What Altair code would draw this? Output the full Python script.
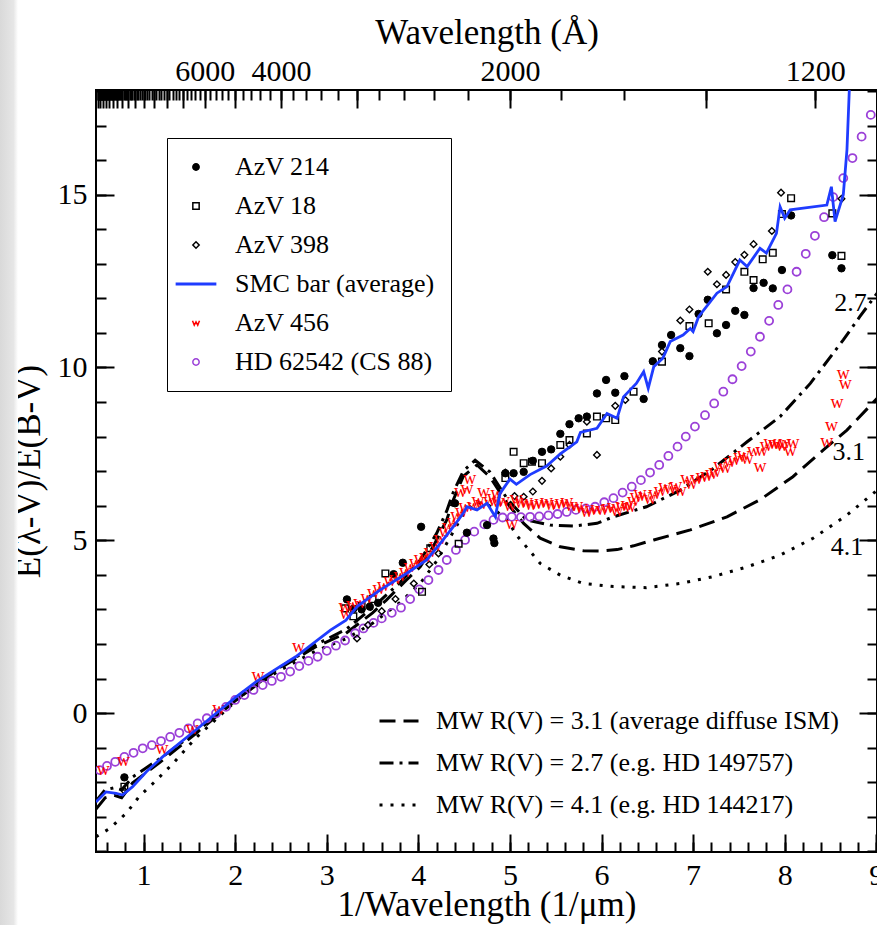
import altair as alt
import pandas as pd

# ---------------- data ----------------
AZV214 = [(0.79, -1.86), (3.22, 3.29), (3.29, 3.02), (3.38, 3.00), (3.47, 3.08), (3.56, 3.19),
          (3.73, 4.02), (3.83, 4.35), (4.03, 5.39), (4.40, 6.07), (4.53, 5.22), (4.75, 5.44),
          (4.82, 5.05), (4.83, 4.92), (4.95, 6.94), (5.04, 6.94), (5.15, 6.98), (5.25, 7.30),
          (5.35, 7.56), (5.45, 7.63), (5.55, 8.08), (5.65, 8.36), (5.75, 8.53), (5.84, 8.58),
          (5.95, 9.25), (6.05, 9.64), (6.15, 9.27), (6.25, 9.75), (6.46, 9.09), (6.56, 10.18),
          (6.66, 10.65), (6.76, 10.94), (6.86, 10.56), (6.96, 10.33), (7.06, 11.55), (7.16, 11.96),
          (7.26, 10.99), (7.36, 11.23), (7.46, 11.64), (7.56, 11.52), (7.66, 12.30), (7.77, 12.45),
          (7.87, 12.29), (7.97, 12.82), (8.07, 14.40), (8.52, 13.25), (8.62, 12.87)]

AZV18 = [(0.79, -2.13), (3.20, 3.03), (3.29, 2.80), (3.38, 3.10), (3.50, 3.30), (3.64, 4.04),
         (4.04, 3.51), (4.13, 4.77), (4.44, 4.90), (4.95, 6.80), (5.04, 7.56), (5.15, 7.23),
         (5.24, 7.27), (5.35, 7.23), (5.55, 7.76), (5.65, 7.90), (5.84, 8.09), (5.95, 8.58),
         (6.05, 8.53), (6.15, 8.48), (6.35, 9.30), (6.66, 10.17), (6.96, 11.20), (7.17, 11.28),
         (7.36, 12.26), (7.56, 12.77), (7.66, 12.53), (7.76, 13.13), (7.87, 13.32), (7.97, 14.44),
         (8.07, 14.90), (8.52, 14.46), (8.62, 13.23)]

AZV398 = [(0.79, -2.25), (3.33, 2.16), (3.45, 2.55), (3.60, 2.95), (3.75, 3.30), (3.95, 3.75),
          (4.12, 4.30), (4.22, 4.62), (4.95, 6.96), (5.05, 6.28), (5.15, 6.26), (5.25, 6.41),
          (5.35, 6.72), (5.45, 7.08), (5.55, 7.42), (5.65, 7.76), (5.84, 8.43), (5.95, 7.47),
          (6.15, 8.89), (6.26, 9.06), (6.66, 10.46), (6.86, 11.36), (6.96, 11.68), (7.16, 12.77),
          (7.26, 12.41), (7.36, 12.68), (7.46, 13.05), (7.56, 13.26), (7.66, 13.57), (7.86, 13.95),
          (7.96, 15.06), (8.62, 14.88)]

AZV456 = [(0.56, -1.68), (0.78, -1.42), (1.20, -1.08), (1.53, -0.49), (1.82, 0.09), (2.25, 1.03),
          (2.69, 1.87), (3.21, 2.83), (3.20, 3.03), (3.28, 3.10), (3.36, 3.17), (3.44, 3.30),
          (3.51, 3.46), (3.57, 3.55), (3.62, 3.66), (3.69, 3.80), (3.75, 3.85), (3.80, 3.95),
          (3.86, 4.05), (3.91, 4.19), (3.97, 4.30), (4.02, 4.43), (4.08, 4.50), (4.13, 4.62),
          (4.19, 4.80), (4.24, 5.01), (4.29, 5.20), (4.33, 5.35), (4.38, 5.50), (4.42, 5.68),
          (4.46, 6.36), (4.47, 5.80), (4.51, 5.92), (4.53, 6.45), (4.56, 6.74), (4.60, 5.97),
          (4.65, 6.10), (4.69, 6.02), (4.71, 6.36), (4.78, 6.12), (4.82, 6.20), (4.86, 6.31),
          (4.87, 6.07), (4.93, 6.12), (5.00, 5.97), (5.02, 5.44), (5.07, 6.17), (5.12, 6.05),
          (5.18, 6.07), (5.23, 6.00), (5.29, 6.02), (5.34, 6.05), (5.40, 6.07), (5.45, 6.00),
          (5.51, 6.02), (5.56, 6.05), (5.62, 6.07), (5.67, 5.95), (5.73, 5.97), (5.78, 5.90),
          (5.84, 5.80), (5.89, 5.85), (5.95, 5.88), (6.01, 5.85), (6.07, 5.90), (6.13, 5.92),
          (6.17, 5.83), (6.22, 5.95), (6.28, 6.00), (6.31, 5.92), (6.35, 6.10), (6.38, 6.21),
          (6.42, 6.31), (6.47, 6.25), (6.53, 6.17), (6.58, 6.30), (6.64, 6.41), (6.69, 6.50),
          (6.75, 6.45), (6.81, 6.55), (6.86, 6.41), (6.93, 6.74), (6.98, 6.60), (7.04, 6.74),
          (7.10, 6.80), (7.15, 6.84), (7.20, 6.90), (7.24, 6.95), (7.29, 7.13), (7.35, 7.05),
          (7.40, 7.23), (7.45, 7.30), (7.51, 7.37), (7.55, 7.45), (7.59, 7.32), (7.66, 7.56),
          (7.73, 7.08), (7.75, 7.56), (7.80, 7.70), (7.84, 7.80), (7.89, 7.75), (7.93, 7.76),
          (7.97, 7.70), (8.00, 7.80), (8.06, 7.56), (8.09, 7.80), (8.46, 7.82), (8.51, 8.29),
          (8.57, 8.94), (8.64, 9.78), (8.66, 9.49)]

HD62542 = [(0.52, -1.65), (0.60, -1.53), (0.69, -1.41), (0.79, -1.27), (0.89, -1.15), (0.99, -1.02),
           (1.09, -0.93), (1.19, -0.81), (1.29, -0.69), (1.39, -0.57), (1.49, -0.44), (1.59, -0.30),
           (1.69, -0.15), (1.79, -0.01), (1.90, 0.18), (2.00, 0.38), (2.10, 0.52), (2.20, 0.67),
           (2.30, 0.81), (2.40, 0.93), (2.50, 1.05), (2.60, 1.20), (2.70, 1.36), (2.80, 1.51),
           (2.90, 1.63), (3.00, 1.80), (3.10, 1.95), (3.20, 2.10), (3.31, 2.31), (3.40, 2.45),
           (3.51, 2.61), (3.60, 2.74), (3.71, 2.90), (3.81, 3.05), (3.91, 3.30), (4.01, 3.58),
           (4.11, 3.85), (4.22, 4.14), (4.31, 4.43), (4.41, 4.72), (4.51, 5.01), (4.61, 5.25),
           (4.72, 5.46), (4.82, 5.59), (4.92, 5.66), (5.02, 5.68), (5.12, 5.67), (5.22, 5.68),
           (5.32, 5.69), (5.42, 5.72), (5.52, 5.76), (5.62, 5.82), (5.72, 5.88), (5.83, 5.92),
           (5.93, 5.97), (6.03, 6.10), (6.13, 6.22), (6.23, 6.38), (6.33, 6.55), (6.43, 6.74),
           (6.53, 6.96), (6.63, 7.18), (6.73, 7.44), (6.83, 7.71), (6.92, 8.00), (7.02, 8.29),
           (7.13, 8.62), (7.23, 8.96), (7.33, 9.30), (7.43, 9.66), (7.53, 10.04), (7.63, 10.46),
           (7.73, 10.89), (7.83, 11.35), (7.93, 11.81), (8.03, 12.26), (8.13, 12.77), (8.23, 13.29),
           (8.33, 13.81), (8.43, 14.35), (8.53, 14.93), (8.64, 15.48), (8.74, 16.06), (8.84, 16.68),
           (8.94, 17.31)]

SMC_BAR = [(0.48, -2.57), (0.59, -2.28), (0.70, -2.32), (0.77, -2.37), (0.88, -2.13), (1.03, -1.70),
           (1.21, -1.26), (1.57, -0.49), (2.01, 0.47), (2.23, 0.91), (2.66, 1.63), (3.04, 2.40),
           (3.21, 2.69), (3.33, 3.08), (3.58, 3.56), (3.87, 4.04), (4.09, 4.43), (4.24, 4.91),
           (4.38, 5.39), (4.49, 5.78), (4.53, 5.97), (4.64, 5.88), (4.75, 6.07), (4.84, 5.68),
           (4.89, 6.35), (5.00, 6.77), (5.07, 6.62), (5.22, 6.90), (5.40, 7.15), (5.55, 7.50),
           (5.73, 7.85), (5.77, 8.12), (5.95, 8.24), (6.06, 8.67), (6.17, 8.53), (6.24, 9.15),
           (6.38, 9.54), (6.46, 9.88), (6.51, 9.40), (6.57, 10.02), (6.67, 10.27), (6.75, 10.75),
           (6.89, 10.94), (6.97, 11.13), (7.00, 11.04), (7.06, 11.47), (7.26, 12.15), (7.37, 12.34),
           (7.51, 13.11), (7.59, 12.92), (7.73, 13.45), (7.80, 13.31), (7.91, 13.88), (7.95, 14.65),
           (8.00, 14.32), (8.06, 14.56), (8.46, 14.70), (8.51, 15.23), (8.55, 14.22), (8.64, 15.00),
           (8.68, 16.30), (8.72, 19.00)]

MW31 = [(0.48, -2.78), (0.58, -2.45), (0.68, -2.38), (0.76, -2.45), (0.88, -2.02), (1.03, -1.72),
        (1.21, -1.36), (1.57, -0.59), (2.01, 0.38), (2.45, 1.24), (2.88, 1.92), (3.21, 2.31),
        (3.50, 2.90), (3.65, 3.27), (3.87, 3.85), (4.02, 4.23), (4.16, 4.81), (4.31, 5.59),
        (4.38, 6.16), (4.49, 6.85), (4.64, 7.18), (4.78, 6.84), (4.97, 6.07), (5.15, 5.49),
        (5.33, 5.06), (5.55, 4.81), (5.80, 4.70), (6.00, 4.69), (6.17, 4.73), (6.35, 4.84),
        (6.57, 5.01), (6.97, 5.30), (7.37, 5.68), (7.73, 6.17), (8.09, 6.84), (8.42, 7.61),
        (8.68, 8.19), (9.01, 9.11)]

MW27 = [(0.48, -2.55), (0.58, -2.22), (0.68, -2.16), (0.76, -2.22), (0.88, -1.85), (1.03, -1.58),
        (1.21, -1.26), (1.57, -0.55), (2.01, 0.38), (2.45, 1.26), (2.88, 1.98), (3.21, 2.42),
        (3.50, 3.05), (3.80, 3.78), (4.02, 4.42), (4.20, 5.20), (4.31, 5.85), (4.38, 6.38),
        (4.49, 7.00), (4.62, 7.32), (4.78, 6.98), (4.97, 6.20), (5.18, 5.59), (5.44, 5.44),
        (5.69, 5.41), (5.95, 5.49), (6.13, 5.68), (6.49, 5.97), (6.86, 6.45), (7.22, 7.08),
        (7.59, 7.85), (7.95, 8.58), (8.28, 9.54), (8.64, 10.80), (8.82, 11.47), (9.01, 12.15)]

MW41 = [(0.48, -3.58), (0.63, -3.34), (0.81, -2.90), (0.95, -2.42), (1.14, -1.94), (1.32, -1.46),
        (1.57, -0.72), (2.01, 0.36), (2.45, 1.18), (2.88, 1.80), (3.21, 2.15), (3.50, 2.60),
        (3.80, 3.20), (4.02, 3.75), (4.20, 4.40), (4.35, 5.10), (4.50, 5.80), (4.62, 6.10),
        (4.75, 6.05), (4.97, 5.60), (5.07, 5.15), (5.18, 4.81), (5.33, 4.33), (5.55, 3.99),
        (5.80, 3.75), (6.13, 3.66), (6.49, 3.63), (6.86, 3.75), (7.22, 3.95), (7.59, 4.23),
        (7.95, 4.57), (8.31, 5.06), (8.68, 5.73), (9.01, 6.45)]

SERIES = ["AzV 214", "AzV 18", "AzV 398", "SMC bar (average)", "AzV 456", "HD 62542 (CS 88)"]
CURVES = ["MW R(V) = 3.1 (average diffuse ISM)",
          "MW R(V) = 2.7 (e.g. HD 149757)",
          "MW R(V) = 4.1 (e.g. HD 144217)"]
CURVE_TAGS = ["2.7", "3.1", "4.1"]
CURVE_TAG_X = [8.72, 8.70, 8.68]
CURVE_TAG_Y = [11.87, 7.55, 4.80]

X_MAJOR = [1, 2, 3, 4, 5, 6, 7, 8, 9]
X_MINOR = [round(0.6 + 0.2 * i, 1) for i in range(43)]
Y_MAJOR = [0, 5, 10, 15]
Y_MINOR = list(range(-4, 19))
TOP_LABEL_WL = [6000, 4000, 2000, 1200]
TOP_MAJOR_WL = [1200, 1400] + list(range(2000, 20001, 1000))
TOP_MINOR_WL = list(range(1200, 20001, 200))

# ---------------- styling ----------------
FONT = "Liberation Serif, Times New Roman, DejaVu Serif, serif"
BLUE = "#1f3cff"
RED = "#ff0000"
PURPLE = "#9b40d8"
X_DOMAIN = [0.48, 9.008]
Y_DOMAIN = [-4.02, 18.03]

XS = alt.Scale(domain=X_DOMAIN, nice=False, zero=False)
YS = alt.Scale(domain=Y_DOMAIN, nice=False, zero=False)


def df(pairs, series=None):
    d = pd.DataFrame(pairs, columns=["x", "y"])
    if series is not None:
        d["series"] = series
    return d


def enc_xy(xaxis=None, yaxis=None):
    return dict(x=alt.X("x:Q", scale=XS, axis=xaxis), y=alt.Y("y:Q", scale=YS, axis=yaxis))


W_PATH = "M-1.1,-0.7L-0.55,0.7L0,-0.35L0.55,0.7L1.1,-0.7"
LINE_PATH = "M-6.2,-0.22L6.2,-0.22L6.2,0.22L-6.2,0.22Z"
shape_scale = alt.Scale(domain=SERIES, range=["circle", "square", "diamond", LINE_PATH, W_PATH, "circle"])
fill_scale = alt.Scale(domain=SERIES, range=["black", "transparent", "transparent", BLUE, "transparent", "transparent"])
stroke_scale = alt.Scale(domain=SERIES, range=["black", "black", "black", BLUE, RED, PURPLE])

leg1 = alt.Legend(title=None, orient="none", legendX=71, legendY=48, fillColor="white",
                  strokeColor="black", padding=16, labelFont=FONT, labelFontSize=26,
                  labelColor="black", symbolSize=40, symbolStrokeWidth=1.5, symbolOffset=0,
                  labelOffset=26, rowPadding=13, labelLimit=400)

leg2 = alt.Legend(title=None, orient="none", legendX=282, legendY=610, labelFont=FONT,
                  labelFontSize=26, labelColor="black", symbolType="stroke", symbolSize=1521,
                  symbolStrokeWidth=3, symbolStrokeColor="black", labelOffset=16, rowPadding=8,
                  labelLimit=700, padding=0)


def point_layer(pairs, name, size, sw):
    return alt.Chart(df(pairs, name)).mark_point(size=size, strokeWidth=sw, opacity=1, clip=True).encode(
        shape=alt.Shape("series:N", scale=shape_scale, legend=leg1),
        fill=alt.Fill("series:N", scale=fill_scale, legend=leg1),
        stroke=alt.Stroke("series:N", scale=stroke_scale, legend=leg1),
        **enc_xy())


# ---------------- axes (inward ticks, labels outside) ----------------
def tick_axis(orient, values, size):
    return alt.Axis(orient=orient, values=values, labels=False, ticks=True, tickSize=size,
                    tickWidth=2, tickColor="black", offset=-size, domain=False, grid=False, title=None)


lab_common = dict(ticks=False, tickSize=0, domain=False, grid=False, labelFont=FONT,
                  labelFontSize=30, labelColor="black", labelFlush=False, labelOverlap=False,
                  titleFont=FONT, titleFontSize=35, titleFontWeight="normal", titleColor="black")

x_lab = alt.Axis(orient="bottom", values=X_MAJOR, format="d", labelPadding=8,
                 title="1/Wavelength (1/μm)", titlePadding=-3, **lab_common)
y_lab = alt.Axis(orient="left", values=Y_MAJOR, format="d", labelPadding=9,
                 title="E(λ-V)/E(B-V)", titlePadding=11, **lab_common)
top_lab = alt.Axis(orient="top", values=[10000 / w for w in TOP_LABEL_WL],
                   labelExpr="'' + round(10000 / datum.value)", labelPadding=4,
                   title="Wavelength (Å)", titlePadding=6, **lab_common)

top_major = [10000 / w for w in TOP_MAJOR_WL if X_DOMAIN[0] <= 10000 / w <= X_DOMAIN[1]]
top_minor = [10000 / w for w in TOP_MINOR_WL if X_DOMAIN[0] <= 10000 / w <= X_DOMAIN[1]]

axis_src = df(HD62542)


def axis_layer(xaxis, yaxis):
    return alt.Chart(axis_src).mark_point(opacity=0).encode(**enc_xy(xaxis, yaxis))


axis_layers = [
    axis_layer(x_lab, y_lab),
    axis_layer(tick_axis("bottom", X_MAJOR, 18), tick_axis("left", Y_MAJOR, 18)),
    axis_layer(tick_axis("bottom", X_MINOR, 10), tick_axis("left", Y_MINOR, 10)),
    axis_layer(tick_axis("top", top_major, 18), tick_axis("right", Y_MAJOR, 18)),
    axis_layer(tick_axis("top", top_minor, 10), tick_axis("right", Y_MINOR, 10)),
    axis_layer(top_lab, None),
]

# light grey page-edge strip seen at the left of the reference (decoration only)
edge_strip = alt.Chart(df([(1, 0)])).mark_rect(
    color=alt.Gradient(gradient="linear", x1=0, x2=1, y1=0, y2=0,
                       stops=[alt.GradientStop(offset=0, color="#d9d9d9"),
                              alt.GradientStop(offset=0.75, color="#e6e6e6"),
                              alt.GradientStop(offset=1, color="#ffffff")])
).encode(x=alt.value(-96), x2=alt.value(-78), y=alt.value(-90), y2=alt.value(835))

# ---------------- data layers ----------------
mw = pd.concat([df(MW31, CURVES[0]), df(MW27, CURVES[1]), df(MW41, CURVES[2])]).rename(columns={"series": "curve"})
mw_layer = alt.Chart(mw).mark_line(color="black", strokeWidth=3, clip=True).encode(
    strokeDash=alt.StrokeDash("curve:N", scale=alt.Scale(domain=CURVES, range=[[16, 8], [14, 6, 3, 6], [3, 8]]),
                              legend=leg2),
    **enc_xy())

purple_layer = point_layer(HD62542, SERIES[5], 64, 1.8)
d398_layer = point_layer(AZV398, SERIES[2], 44, 1.4)
s18_layer = point_layer(AZV18, SERIES[1], 44, 1.4)
c214_layer = point_layer(AZV214, SERIES[0], 55, 1.0)

w_layer = alt.Chart(df(AZV456)).mark_text(text="w", font=FONT, fontSize=18, color=RED,
                                          baseline="alphabetic", dy=4, clip=True).encode(**enc_xy())

smc_layer = alt.Chart(df(SMC_BAR)).mark_line(color=BLUE, strokeWidth=2.8, clip=True).encode(**enc_xy())

tags = pd.DataFrame({"x": CURVE_TAG_X, "y": CURVE_TAG_Y, "t": CURVE_TAGS})
tag_layer = alt.Chart(tags).mark_text(font=FONT, fontSize=26, color="black", baseline="middle").encode(
    text="t:N", **enc_xy())

chart = alt.layer(
    edge_strip, *axis_layers, mw_layer, purple_layer, d398_layer, s18_layer, c214_layer, w_layer,
    smc_layer, tag_layer
).resolve_axis(x="independent", y="independent").properties(
    width=781, height=762,
    padding={"left": 96, "top": 90, "right": 0, "bottom": 73},
    autosize=alt.AutoSizeParams(type="none"),
    background="white",
).configure_view(stroke="black", strokeWidth=2)

chart.save("out.html", embed_options={"renderer": "svg", "actions": False})
